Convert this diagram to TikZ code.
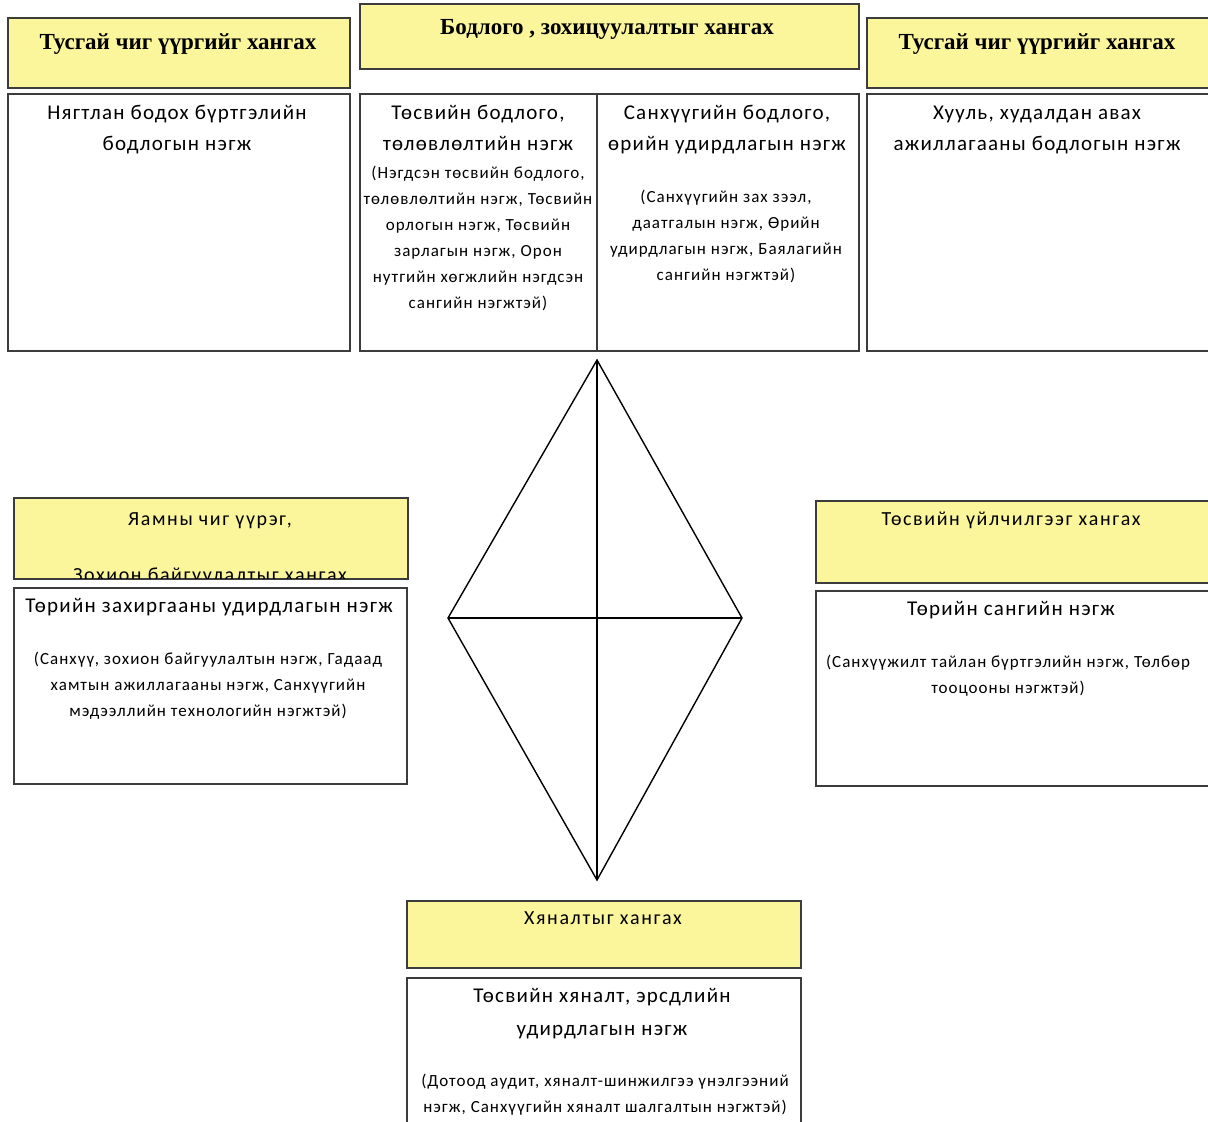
\documentclass[tikz,border=0pt]{standalone}
\usepackage{fontspec}
\setmainfont{Carlito}
\newfontfamily\headserif{Liberation Serif}
\newfontfamily\namefont[LetterSpace=6]{Carlito}
\newfontfamily\notefont[LetterSpace=6]{Carlito}
\newfontfamily\capfont[LetterSpace=8]{Carlito}
\definecolor{paleyellow}{RGB}{251,245,155}
\definecolor{framegray}{RGB}{60,60,60}
\tikzset{
  titlebox/.style={draw=framegray, line width=1.8pt, fill=paleyellow, anchor=north west, inner sep=0pt},
  unitbox/.style={draw=framegray, line width=1.6pt, fill=white, anchor=north west, inner sep=0pt},
  serifhead/.style={font=\headserif\bfseries\fontsize{23}{26}\selectfont, anchor=base, inner sep=0pt},
  sanshead/.style={font=\capfont\fontsize{20}{52}\selectfont, align=center, anchor=base, inner sep=0pt},
  unitname/.style={font=\namefont\fontsize{21}{31}\selectfont, align=center, anchor=base, inner sep=0pt},
  unitnote/.style={font=\notefont\fontsize{17}{26}\selectfont, align=center, anchor=base, inner sep=0pt},
  kite/.style={line width=1.4pt, black},
}
\begin{document}
\begin{tikzpicture}[x=1pt, y=-1pt]
\useasboundingbox (0,0) rectangle (1208,1122);

% --- top row: heading boxes ---
\node[titlebox, minimum width=342pt, minimum height=70pt] (tly) at (7,17) {};
\node[titlebox, minimum width=499pt, minimum height=65pt] (tmy) at (359,3) {};
\node[titlebox, minimum width=350pt, minimum height=70pt] (try) at (866,17) {};
\node[serifhead] (tlyt) at (178,49) {Тусгай чиг үүргийг хангах};
\node[serifhead] (tmyt) at (607,34) {Бодлого , зохицуулалтыг хангах};
\node[serifhead] (tryt) at (1037,49) {Тусгай чиг үүргийг хангах};

% --- top row: unit boxes (anchor = baseline of the last line) ---
\node[unitbox, minimum width=342pt, minimum height=257pt] (tlw) at (7,93) {};
\node[unitbox, minimum width=499pt, minimum height=257pt] (tmw) at (359,93) {};
\node[unitbox, minimum width=350pt, minimum height=257pt] (trw) at (866,93) {};
\coordinate (splitT) at (597,93);
\coordinate (splitB) at (597,350);
\draw[draw=framegray, line width=1.6pt] (splitT) -- (splitB);

\node[unitname] (tlwt) at (177,150) {Нягтлан бодох бүртгэлийн\\бодлогын  нэгж};
\node[unitname] (tmlt) at (478,150) {Төсвийн бодлого,\\төлөвлөлтийн нэгж};
\node[unitnote] (tmln) at (478,308) {(Нэгдсэн төсвийн бодлого,\\төлөвлөлтийн нэгж, Төсвийн\\орлогын нэгж, Төсвийн\\зарлагын нэгж, Орон\\нутгийн хөгжлийн нэгдсэн\\сангийн нэгжтэй)};
\node[unitname] (tmrt) at (727,150) {Санхүүгийн бодлого,\\өрийн удирдлагын нэгж};
\node[unitnote] (tmrn) at (726,280) {(Санхүүгийн зах зээл,\\даатгалын нэгж, Өрийн\\удирдлагын нэгж, Баялагийн\\сангийн нэгжтэй)};
\node[unitname] (trwt) at (1037,150) {Хууль, худалдан авах\\ажиллагааны бодлогын нэгж};

% --- central kite ---
\coordinate (kT) at (597,360);
\coordinate (kL) at (448,618);
\coordinate (kR) at (742,618);
\coordinate (kB) at (597,880);
\draw[kite] (kT) -- (kR) -- (kB) -- (kL) -- cycle;
\draw[kite] (kT) -- (kB);
\draw[kite] (kL) -- (kR);

% --- left block ---
\node[titlebox, minimum width=394pt, minimum height=81pt] (lmy) at (13,497) {};
\begin{scope}
  \clip (13,497) rectangle (407,578);
  \node[sanshead, font=\capfont\fontsize{20}{56}\selectfont] (lmyt) at (210,581) {Яамны чиг үүрэг,\\Зохион байгуулалтыг хангах};
\end{scope}
\node[unitbox, minimum width=393pt, minimum height=196pt] (lmw) at (13,587) {};
\node[unitname] (lmwt) at (209,612) {Төрийн захиргааны удирдлагын нэгж};
\node[unitnote] (lmwn) at (208,716) {(Санхүү, зохион байгуулалтын нэгж, Гадаад\\хамтын ажиллагааны нэгж, Санхүүгийн\\мэдээллийн технологийн нэгжтэй)};

% --- right block ---
\node[titlebox, minimum width=400pt, minimum height=82pt] (rmy) at (815,500) {};
\node[sanshead] (rmyt) at (1011,525) {Төсвийн үйлчилгээг хангах};
\node[unitbox, minimum width=400pt, minimum height=195pt] (rmw) at (815,590) {};
\node[unitname] (rmwt) at (1011,615) {Төрийн сангийн нэгж};
\node[unitnote] (rmwn) at (1008,693) {(Санхүүжилт тайлан бүртгэлийн нэгж, Төлбөр\\тооцооны нэгжтэй)};

% --- bottom block ---
\node[titlebox, minimum width=394pt, minimum height=67pt] (by) at (406,900) {};
\node[sanshead] (byt) at (603,924) {Хяналтыг хангах};
\node[unitbox, minimum width=394pt, minimum height=160pt] (bw) at (406,977) {};
\node[unitname, font=\namefont\fontsize{21}{33}\selectfont] (bwt) at (602,1035) {Төсвийн хяналт, эрсдлийн\\удирдлагын нэгж};
\node[unitnote] (bwn) at (605,1112) {(Дотоод аудит, хяналт-шинжилгээ үнэлгээний\\нэгж, Санхүүгийн хяналт шалгалтын нэгжтэй)};
\end{tikzpicture}
\end{document}
